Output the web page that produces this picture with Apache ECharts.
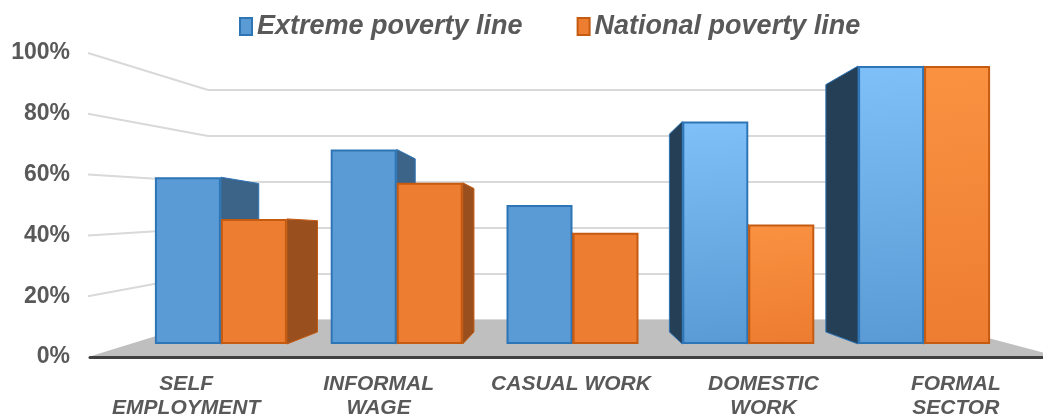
<!DOCTYPE html>
<html>
<head>
<meta charset="utf-8">
<script src="https://cdn.jsdelivr.net/npm/echarts@6/dist/echarts.min.js"></script>
<style>html,body{margin:0;padding:0;background:#fff;}#c{width:1043px;height:416px;}</style>
</head>
<body>
<div id="c"></div>
<script>
// ---- data ----
const categories = ['SELF\nEMPLOYMENT', 'INFORMAL\nWAGE', 'CASUAL WORK', 'DOMESTIC\nWORK', 'FORMAL\nSECTOR'];
const seriesNames = ['Extreme poverty line', 'National poverty line'];
const extremeValues = [60, 70, 50, 80, 100];
const nationalValues = [45, 58, 40, 43, 100];
const yTicks = [0, 20, 40, 60, 80, 100];

// ---- styling / layout constants ----
const BAR_W = 66;
const VP = [565, 235];     // pseudo-3D vanishing point
const DEPTH = 0.11;        // depth factor of bar side faces
const FRONT_LEFT = 88, BACK_LEFT = 208, BACK_RIGHT = 920, FRONT_RIGHT = 1060;
const TXT = '#595959';
const FONT = 'Liberation Sans, Arial, sans-serif';
const BLUE = '#5B9BD5', BLUE_EDGE = '#2E75B6';
const ORANGE = '#ED7D31', ORANGE_EDGE = '#C55A11';

function lightGrad(top, bottom) {
  return new echarts.graphic.LinearGradient(0, 0, 0.3, 1, [{offset: 0, color: top}, {offset: 1, color: bottom}]);
}

function barData(values, light, base) {
  return values.map((v, i) => i >= 3 ? {value: v, itemStyle: {color: lightGrad(light, base)}} : v);
}

function sideRender(pos, rightColor, leftColor, stroke) {
  return function (params, api) {
    const i = api.value(0), v = api.value(1);
    const b = api.coord([i, 0]);
    const t = api.coord([i, v]);
    const x0 = b[0] - BAR_W + pos * BAR_W, x1 = x0 + BAR_W;
    const yb = b[1], yt = t[1];
    const proj = (x, y) => [x + (VP[0] - x) * DEPTH, y + (VP[1] - y) * DEPTH];
    let ex, color;
    if (VP[0] > x1) { ex = x1; color = rightColor; }
    else if (VP[0] < x0) { ex = x0; color = leftColor; }
    else return {type: 'group', children: []};
    return {
      type: 'polygon',
      shape: {points: [[ex, yt], [ex, yb], proj(ex, yb), proj(ex, yt)]},
      style: {fill: color, stroke: stroke, lineWidth: 1}
    };
  };
}

const chart = echarts.init(document.getElementById('c'), null, {renderer: 'canvas'});

const option = {
  animation: false,
  backgroundColor: '#fff',
  legend: {
    data: seriesNames,
    top: 8, left: 234,
    icon: 'rect', itemWidth: 12, itemHeight: 17, itemGap: 54,
    textStyle: {fontSize: 27, fontWeight: 'bold', fontStyle: 'italic', color: TXT, fontFamily: FONT}
  },
  grid: [
    {left: 133, width: 879, top: 66, bottom: 72, outerBoundsMode: 'none', containLabel: false},              // bars
    {left: 90, width: 962, top: 53, bottom: 59, outerBoundsMode: 'none', containLabel: false},               // front axis
    {left: BACK_LEFT, right: 1043 - BACK_RIGHT, top: 90, bottom: 96, outerBoundsMode: 'none', containLabel: false} // back wall
  ],
  xAxis: [
    {gridIndex: 0, type: 'category', data: categories, show: false},
    {gridIndex: 1, type: 'category', data: categories, z: 5,
      axisLine: {lineStyle: {color: '#404040', width: 3}},
      axisTick: {show: false},
      axisLabel: {interval: 0, fontSize: 21, fontWeight: 'bold', fontStyle: 'italic', color: TXT, lineHeight: 24, margin: 15,
        fontFamily: FONT}},
    {gridIndex: 2, type: 'value', min: 0, max: 1, show: false}
  ],
  yAxis: [
    {gridIndex: 0, type: 'value', min: yTicks[0], max: yTicks[yTicks.length - 1], show: false},
    {gridIndex: 1, type: 'value', min: yTicks[0], max: yTicks[yTicks.length - 1], interval: yTicks[1] - yTicks[0],
      axisLabel: {formatter: '{value}%', fontSize: 23, fontWeight: 'bold', color: TXT, margin: 20, fontFamily: FONT},
      splitLine: {show: false}, axisLine: {show: false}, axisTick: {show: false}},
    {gridIndex: 2, type: 'value', min: yTicks[0], max: yTicks[yTicks.length - 1], interval: yTicks[1] - yTicks[0],
      axisLabel: {show: false}, axisLine: {show: false}, axisTick: {show: false},
      splitLine: {lineStyle: {color: '#D9D9D9', width: 2}}}
  ],
  series: [
    {type: 'custom', xAxisIndex: 0, yAxisIndex: 0, z: 2, silent: true,
      renderItem: sideRender(0, '#3B6488', '#243F56', BLUE_EDGE),
      data: extremeValues.map((v, i) => [i, v]), encode: {x: 0, y: 1}},
    {type: 'custom', xAxisIndex: 0, yAxisIndex: 0, z: 2, silent: true,
      renderItem: sideRender(1, '#9A4F1E', '#7A3A10', ORANGE_EDGE),
      data: nationalValues.map((v, i) => [i, v]), encode: {x: 0, y: 1}},
    {name: seriesNames[0], type: 'bar', xAxisIndex: 0, yAxisIndex: 0, z: 3,
      barWidth: BAR_W, barGap: '0%',
      itemStyle: {color: BLUE, borderColor: BLUE_EDGE, borderWidth: 2},
      data: barData(extremeValues, '#7FC0F8', BLUE)},
    {name: seriesNames[1], type: 'bar', xAxisIndex: 0, yAxisIndex: 0, z: 3,
      barWidth: BAR_W, barGap: '0%',
      itemStyle: {color: ORANGE, borderColor: ORANGE_EDGE, borderWidth: 2},
      data: barData(nationalValues, '#FA9242', ORANGE)}
  ]
};
chart.setOption(option);

// perspective decoration: floor and connectors from front axis ticks to back wall
const fy = v => chart.convertToPixel({yAxisIndex: 1}, v);
const by = v => chart.convertToPixel({yAxisIndex: 2}, v);
const graphics = [];
graphics.push({
  type: 'polygon', z: 1, silent: true,
  shape: {points: [[FRONT_LEFT, fy(0)], [BACK_LEFT, by(0)], [BACK_RIGHT, by(0)], [FRONT_RIGHT, fy(0)]]},
  style: {fill: '#BFBFBF'}
});
yTicks.slice(1).forEach(v => {
  graphics.push({
    type: 'line', z: 0, silent: true,
    shape: {x1: FRONT_LEFT, y1: fy(v), x2: BACK_LEFT, y2: by(v)},
    style: {stroke: '#D9D9D9', lineWidth: 2}
  });
});
chart.setOption({graphic: graphics});
</script>
</body>
</html>
